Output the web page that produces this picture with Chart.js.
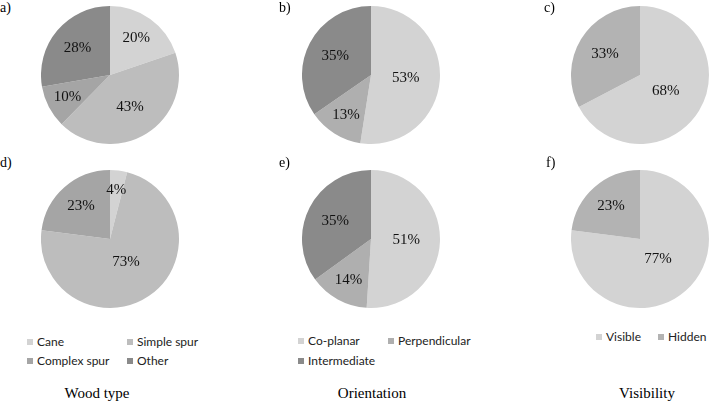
<!DOCTYPE html>
<html>
<head>
<meta charset="utf-8">
<script src="https://cdn.jsdelivr.net/npm/chart.js@4"></script>
<style>
  body { margin: 0; background: #fff; }
  #wrap { position: relative; width: 709px; height: 403px; overflow: hidden; }
  canvas { position: absolute; }
  .tag { position: absolute; font: 14px "Liberation Serif", "Times New Roman", serif; color: #000; }
  .title { position: absolute; font: 15px "Liberation Serif", "Times New Roman", serif; color: #000; transform: translateX(-50%); white-space: nowrap; }
  .leg { position: absolute; font: 12px Lato, sans-serif; color: #222; white-space: nowrap; line-height: 12px; }
  .leg i { display: inline-block; width: 6px; height: 6px; margin-right: 4px; vertical-align: 1px; }
</style>
</head>
<body>
<div id="wrap">
  <canvas id="pa" width="138" height="138" style="left:41px;top:6px"></canvas>
  <canvas id="pb" width="138" height="138" style="left:302px;top:6px"></canvas>
  <canvas id="pc" width="138" height="138" style="left:571px;top:6px"></canvas>
  <canvas id="pd" width="138" height="138" style="left:41px;top:170px"></canvas>
  <canvas id="pe" width="138" height="138" style="left:302px;top:170px"></canvas>
  <canvas id="pf" width="138" height="138" style="left:571px;top:170px"></canvas>

  <div class="tag" style="left:0px;top:0px">a)</div>
  <div class="tag" style="left:279px;top:0px">b)</div>
  <div class="tag" style="left:544px;top:0px">c)</div>
  <div class="tag" style="left:0px;top:155px">d)</div>
  <div class="tag" style="left:279px;top:155px">e)</div>
  <div class="tag" style="left:546px;top:155px">f)</div>

  <div id="legends"></div>

  <div class="title" style="left:97px;top:385px">Wood type</div>
  <div class="title" style="left:372px;top:385px">Orientation</div>
  <div class="title" style="left:647px;top:385px">Visibility</div>
</div>
<script>
// categories
const woodLabels = ["Cane", "Simple spur", "Complex spur", "Other"];
const orientLabels = ["Co-planar", "Perpendicular", "Intermediate"];
const visLabels = ["Visible", "Hidden"];

// values (%)
const woodTop = [20, 43, 10, 28];
const woodBottom = [4, 73, 23, 0];
const orientTop = [53, 13, 35];
const orientBottom = [51, 14, 35];
const visTop = [68, 33];
const visBottom = [77, 23];

const woodColors = ["#d3d3d3", "#bdbdbd", "#a5a5a5", "#8a8a8a"];
const orientColors = ["#d3d3d3", "#afafaf", "#8a8a8a"];
const visColors = ["#d3d3d3", "#b3b3b3"];

const labelFont = '15px "Liberation Serif", "Times New Roman", serif';

// percent labels inside slices, larger slices sit closer to the centre
const sliceLabels = {
  id: "sliceLabels",
  afterDatasetsDraw(chart) {
    const c = chart.ctx;
    const meta = chart.getDatasetMeta(0);
    const vals = chart.data.datasets[0].data;
    const total = vals.reduce((a, b) => a + b, 0);
    c.save();
    c.font = labelFont;
    c.fillStyle = "#111";
    c.textAlign = "center";
    c.textBaseline = "middle";
    meta.data.forEach((arc, i) => {
      if (!vals[i]) return;
      const p = arc.getProps(["x", "y", "startAngle", "endAngle", "outerRadius"], true);
      const mid = (p.startAngle + p.endAngle) / 2;
      const share = vals[i] / total;
      const f = 0.74 - 0.45 * share;
      const r = p.outerRadius * f;
      c.fillText(vals[i] + "%", p.x + Math.cos(mid) * r, p.y + Math.sin(mid) * r);
    });
    c.restore();
  }
};

function pie(id, labels, values, colors) {
  return new Chart(document.getElementById(id).getContext("2d"), {
    type: "pie",
    data: {
      labels: labels,
      datasets: [{ data: values, backgroundColor: colors, borderWidth: 0 }]
    },
    options: {
      responsive: false,
      animation: false,
      layout: { padding: 0 },
      plugins: { legend: { display: false }, tooltip: { enabled: false } }
    },
    plugins: [sliceLabels]
  });
}

function drawAll() {
  pie("pa", woodLabels, woodTop, woodColors);
  pie("pb", orientLabels, orientTop, orientColors);
  pie("pc", visLabels, visTop, visColors);
  pie("pd", woodLabels, woodBottom, woodColors);
  pie("pe", orientLabels, orientBottom, orientColors);
  pie("pf", visLabels, visBottom, visColors);
}

// legends in two columns
function legend(labels, colors, left, colGap, top, rowGap) {
  const host = document.getElementById("legends");
  labels.forEach((name, i) => {
    const d = document.createElement("div");
    d.className = "leg";
    d.style.left = (left + (i % 2) * colGap) + "px";
    d.style.top = (top + Math.floor(i / 2) * rowGap) + "px";
    d.innerHTML = '<i style="background:' + colors[i] + '"></i>' + name;
    host.appendChild(d);
  });
}
legend(woodLabels, woodColors, 27, 100, 336, 19);
legend(orientLabels, orientColors, 298, 90, 335, 20);
legend(visLabels, visColors, 596, 62, 331, 19);

document.fonts.load(labelFont, "0123456789%").then(drawAll, drawAll);
</script>
</body>
</html>
